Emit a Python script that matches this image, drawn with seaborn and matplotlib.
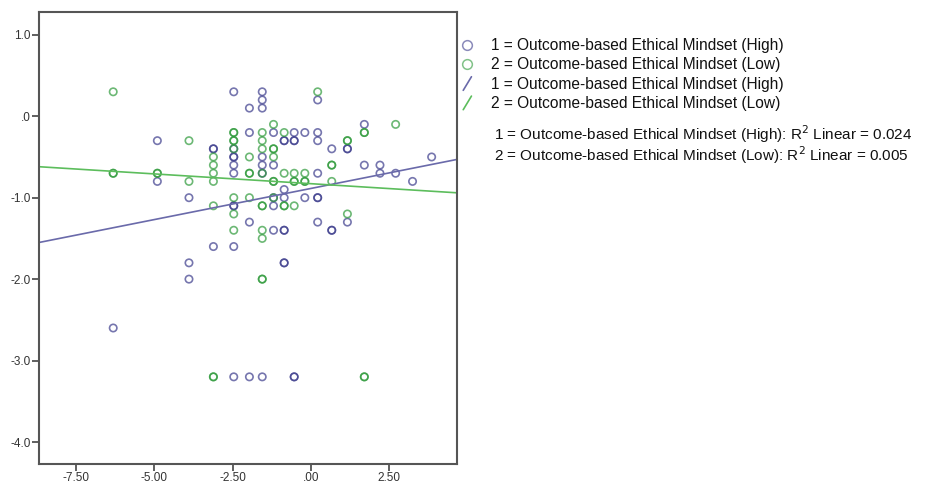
import numpy as np
import pandas as pd
import matplotlib
matplotlib.use("Agg")
import matplotlib.pyplot as plt
from matplotlib.lines import Line2D
from matplotlib.markers import MarkerStyle
from matplotlib.legend_handler import HandlerBase
import seaborn as sns

# ---- data ----
high_x = [-6.31, -4.90, -4.90, -3.89, -3.89, -3.89, -3.11, -3.11, -3.11,
          -2.46, -2.46, -2.46, -2.46, -2.46, -2.46, -2.46, -2.46, -2.46, -2.46,
          -1.96, -1.96, -1.96, -1.96,
          -1.55, -1.55, -1.55, -1.55, -1.55, -1.55, -1.55,
          -1.19, -1.19, -1.19, -1.19, -1.19,
          -0.85, -0.85, -0.85, -0.85, -0.85, -0.85, -0.85, -0.85,
          -0.53, -0.53, -0.53, -0.53, -0.53,
          -0.19, -0.19,
          0.22, 0.22, 0.22, 0.22, 0.22, 0.22, 0.22,
          0.67, 0.67, 0.67,
          1.17, 1.17, 1.17,
          1.71, 1.71, 2.21, 2.21, 2.71, 3.25, 3.86]
high_y = [-2.6, -0.3, -0.8, -1.0, -1.8, -2.0, -0.4, -0.4, -1.6,
          0.3, -0.4, -0.5, -0.5, -0.6, -0.7, -1.1, -1.1, -1.6, -3.2,
          0.1, -0.2, -1.3, -3.2,
          0.3, 0.2, 0.1, -0.5, -0.6, -0.7, -3.2,
          -0.2, -0.6, -1.0, -1.1, -1.4,
          -0.3, -0.3, -0.9, -1.0, -1.4, -1.4, -1.8, -1.8,
          -0.2, -0.3, -0.3, -3.2, -3.2,
          -0.2, -1.0,
          0.2, -0.2, -0.3, -0.7, -1.0, -1.0, -1.3,
          -0.4, -1.4, -1.4,
          -0.4, -0.4, -1.3,
          -0.1, -0.6, -0.6, -0.7, -0.7, -0.8, -0.5]

low_x = [-6.31, -6.31, -6.31, -4.90, -4.90, -3.89, -3.89,
         -3.11, -3.11, -3.11, -3.11, -3.11, -3.11, -3.11,
         -2.46, -2.46, -2.46, -2.46, -2.46, -2.46, -2.46, -2.46,
         -1.96, -1.96, -1.96, -1.96,
         -1.55, -1.55, -1.55, -1.55, -1.55, -1.55, -1.55, -1.55, -1.55, -1.55,
         -1.19, -1.19, -1.19, -1.19, -1.19, -1.19, -1.19,
         -0.85, -0.85, -0.85, -0.85,
         -0.53, -0.53, -0.53, -0.53,
         -0.19, -0.19, -0.19,
         0.22, 0.67, 0.67, 0.67,
         1.17, 1.17, 1.17, 1.71, 1.71, 1.71, 1.71, 2.71]
low_y = [0.3, -0.7, -0.7, -0.7, -0.7, -0.3, -0.8,
         -0.5, -0.6, -0.7, -0.8, -1.1, -3.2, -3.2,
         -0.2, -0.2, -0.3, -0.3, -0.4, -1.0, -1.2, -1.4,
         -0.5, -0.7, -0.7, -1.0,
         -0.2, -0.3, -0.4, -0.7, -1.1, -1.1, -1.4, -1.5, -2.0, -2.0,
         -0.1, -0.4, -0.4, -0.5, -0.8, -0.8, -1.0,
         -0.2, -0.7, -1.1, -1.1,
         -0.7, -0.8, -0.8, -1.1,
         -0.7, -0.8, -0.8,
         0.3, -0.6, -0.6, -0.8,
         -0.3, -0.3, -1.2, -0.2, -0.2, -3.2, -3.2, -0.1]

groups = ["1 = Outcome-based Ethical Mindset (High)",
          "2 = Outcome-based Ethical Mindset (Low)"]
fit_intercept = [-0.887, -0.828]   # fitted lines
fit_slope = [0.0764, -0.024]
r2_values = ["0.024", "0.005"]

x_ticks = [-7.5, -5.0, -2.5, 0.0, 2.5]
x_ticklabels = ["-7.50", "-5.00", "-2.50", ".00", "2.50"]
y_ticks = [1.0, 0.0, -1.0, -2.0, -3.0, -4.0]
y_ticklabels = ["1.0", ".0", "-1.0", "-2.0", "-3.0", "-4.0"]

point_colors = ["#3c3c8c", "#2e9a3a"]
line_colors = ["#6a6aaa", "#5cbd5c"]

df = pd.concat([
    pd.DataFrame({"x": high_x, "y": high_y, "group": groups[0]}),
    pd.DataFrame({"x": low_x, "y": low_y, "group": groups[1]}),
])


class HandlerSlash(HandlerBase):
    # short "/" stroke like the SPSS legend for fit lines
    def create_artists(self, legend, orig_handle, xdescent, ydescent,
                       width, height, fontsize, trans):
        cx = width / 2 - xdescent
        x0, x1 = cx - 0.22 * width, cx + 0.22 * width
        y0, y1 = -ydescent - 0.15 * height, height - ydescent + 0.1 * height
        ln = Line2D([x0, x1], [y0, y1], color=orig_handle.get_color(),
                    linewidth=orig_handle.get_linewidth(), transform=trans)
        return [ln]


sns.set_style("white")
plt.rcParams["font.family"] = ["Liberation Sans", "DejaVu Sans"]
plt.rcParams["text.color"] = "#111111"

fig = plt.figure(figsize=(9.33, 4.84), dpi=100)
ax = fig.add_axes([39 / 933, 1 - 464 / 484, 418 / 933, 452 / 484])

XLIM = (-8.68, 4.67)
YLIM = (-4.27, 1.28)

hollow = MarkerStyle("o", fillstyle="none")
for g, c in zip(groups, point_colors):
    sns.scatterplot(data=df[df["group"] == g], x="x", y="y", ax=ax,
                    color=c, marker=hollow, s=28, linewidth=1.2, alpha=0.7,
                    legend=False)

line_x = np.array(XLIM)
for b, m, c in zip(fit_intercept, fit_slope, line_colors):
    sns.lineplot(x=line_x, y=b + m * line_x, ax=ax, color=c, linewidth=1.2)

ax.set_xlim(XLIM)
ax.set_ylim(YLIM)
ax.set_xticks(x_ticks)
ax.set_xticklabels(x_ticklabels)
ax.set_yticks(y_ticks)
ax.set_yticklabels(y_ticklabels)
ax.set_xlabel("")
ax.set_ylabel("")
ax.tick_params(axis="both", direction="out", length=5, width=1.2, color="#444444",
               labelsize=8.5, labelcolor="#333333", pad=1,
               bottom=True, left=True)
for sp in ax.spines.values():
    sp.set_color("#555555")
    sp.set_linewidth(1.5)

# legend: markers + fit lines
handles = [
    Line2D([], [], linestyle="none", marker="o", markerfacecolor="none",
           markeredgecolor=point_colors[0], markersize=7, alpha=0.6, markeredgewidth=1.1),
    Line2D([], [], linestyle="none", marker="o", markerfacecolor="none",
           markeredgecolor=point_colors[1], markersize=7, alpha=0.6, markeredgewidth=1.1),
    Line2D([], [], color=line_colors[0], linewidth=1.2),
    Line2D([], [], color=line_colors[1], linewidth=1.2),
]
fig.legend(handles, groups + groups, loc="upper left",
           bbox_to_anchor=(458 / 933, 1 - 38 / 484), frameon=False,
           fontsize=11.2, handlelength=1.2, handletextpad=0.95,
           labelspacing=0.28, borderaxespad=0, borderpad=0,
           handler_map={handles[2]: HandlerSlash(), handles[3]: HandlerSlash()})

r2_rows = [134, 155]
for g, r, yp in zip(groups, r2_values, r2_rows):
    fig.text(494 / 933, 1 - yp / 484, g + ": R$^2$ Linear = " + r,
             fontsize=11.0, va="center", ha="left")

fig.savefig("out.png", dpi=100)
